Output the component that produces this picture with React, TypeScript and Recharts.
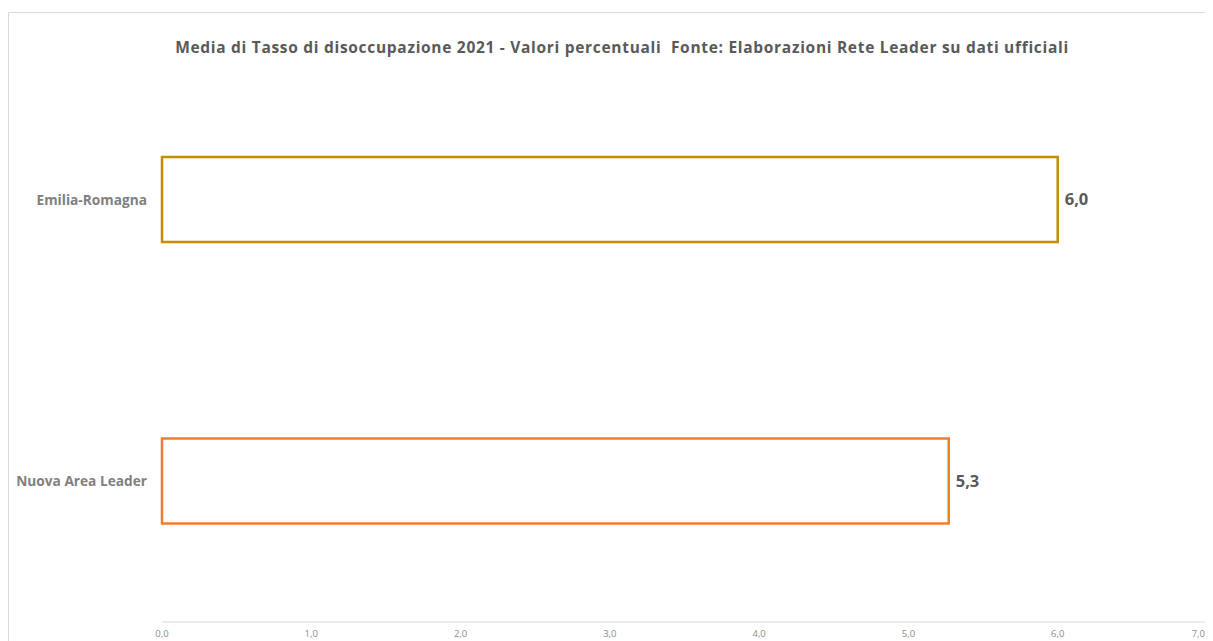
import React from "react";
import { BarChart, Bar, XAxis, YAxis, Cell, LabelList } from "recharts";

const categories = ["Emilia-Romagna", "Nuova Area Leader"];
const values = [6.0, 5.27];
const COLORS = ["#BF9000", "#ED7D31"];
const xTicks = [0, 1, 2, 3, 4, 5, 6, 7];

const data = categories.map((name, i) => ({ name, value: values[i] }));

const fmt = (v: number) => v.toFixed(1).replace(".", ",");

const TITLE =
  "Media di Tasso di disoccupazione 2021 - Valori percentuali  Fonte: Elaborazioni Rete Leader su dati ufficiali";

// last tick label sits right on the page edge, keep it inside
const XTick = (props: any) => {
  const { x, y, payload } = props;
  const last = payload.value === xTicks[xTicks.length - 1];
  return (
    <text
      x={last ? x - 2 : x}
      y={y}
      dy="0.71em"
      textAnchor={last ? "end" : "middle"}
      fontSize={9.5}
      fill="#8c8c8c"
    >
      {fmt(payload.value)}
    </text>
  );
};

const App = () => {
  return (
    <div style={{ position: "relative", width: 1205, height: 633, fontFamily: "'Open Sans', sans-serif" }}>
      <div
        style={{
          position: "absolute",
          left: 0,
          top: 4,
          width: 1205,
          height: 629,
          borderLeft: "1px solid #d9d9d9",
          borderTop: "1px solid #d9d9d9",
          boxSizing: "border-box",
        }}
      />
      <div
        style={{
          position: "absolute",
          left: 614,
          top: 28,
          transform: "translateX(-50%)",
          whiteSpace: "pre",
          fontSize: 15.5,
          letterSpacing: 0.7,
          fontWeight: 700,
          color: "#595959",
        }}
      >
        {TITLE}
      </div>
      <div style={{ position: "absolute", left: 0, top: 0 }}>
        <BarChart
          width={1205}
          height={633}
          data={data}
          layout="vertical"
          margin={{ top: 51, right: 6, bottom: 0, left: 0 }}
        >
          <XAxis
            type="number"
            domain={[0, 7]}
            ticks={xTicks}
            height={19}
            axisLine={{ stroke: "#d9d9d9" }}
            tickLine={false}
            tick={<XTick />}
            interval={0}
          />
          <YAxis
            type="category"
            dataKey="name"
            width={154}
            axisLine={false}
            tickLine={false}
            tickMargin={9}
            tick={{ fontSize: 13.7, fontWeight: 700, fill: "#7f7f7f" }}
          />
          <Bar dataKey="value" barSize={85} fill="none" strokeWidth={2.5} isAnimationActive={false}>
            {data.map((d, i) => (
              <Cell key={d.name} stroke={COLORS[i]} fill="#ffffff" />
            ))}
            <LabelList
              dataKey="value"
              position="right"
              offset={7}
              formatter={(v: any) => fmt(Math.round(Number(v) * 10) / 10)}
              style={{ fontSize: 16.5, fontWeight: 700, fill: "#595959" }}
            />
          </Bar>
        </BarChart>
      </div>
    </div>
  );
};

export default App;
